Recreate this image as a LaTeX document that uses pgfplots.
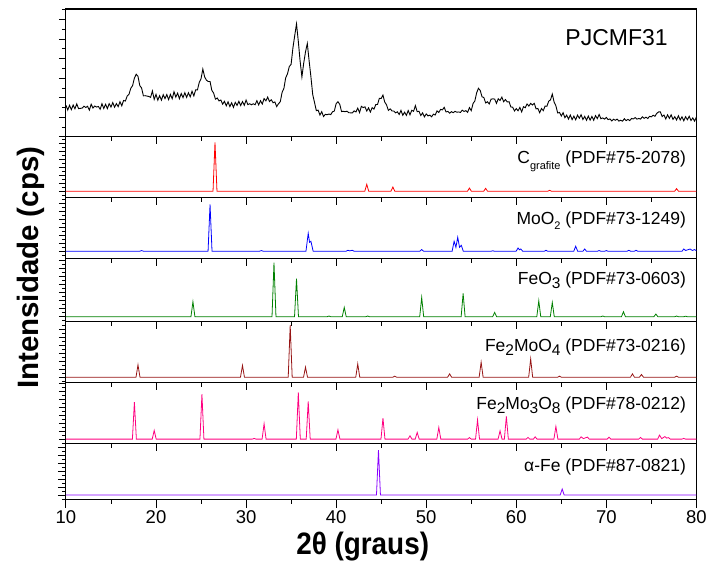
\documentclass[border=0pt]{standalone}
\usepackage{pgfplots}
\pgfplotsset{compat=1.18}
\usepackage{fontspec}
\setmainfont{Liberation Sans}
\usetikzlibrary{calc}
\definecolor{cC}{RGB}{255,0,0}
\definecolor{cMo}{RGB}{0,0,255}
\definecolor{cFeO}{RGB}{0,128,0}
\definecolor{cFMO}{RGB}{150,20,20}
\definecolor{cFMOE}{RGB}{255,0,128}
\definecolor{cFe}{RGB}{136,0,255}
\newcommand\lsub[1]{\raisebox{-0.45ex}{\fontsize{15.5}{15.5}\selectfont #1}}
\newcommand\ssub[1]{\raisebox{-0.6ex}{\fontsize{11}{11}\selectfont #1}}
\tikzset{lab/.style={anchor=base east, font=\fontsize{17.5}{17.5}\selectfont}}
\pgfplotsset{
  panel/.style={scale only axis, width=631pt, xmin=10, xmax=80,
    xtick={10,20,...,80}, minor x tick num=1, xticklabels={},
    tick align=outside, xtick pos=lower, ytick pos=left, yticklabels={},
    major tick length=7pt, minor tick length=4pt,
    axis line style={line width=1.1pt},
    every tick/.style={black, line width=0.9pt},
    anchor=south west, clip=true},
}
\begin{document}
\begin{tikzpicture}
% ---------- top panel: sample ----------
\begin{axis}[panel, at={(0pt,363pt)}, height=128pt, ymin=0, ymax=100,
  ytick distance=15.3, minor y tick num=1]
\addplot[black, line width=0.9pt] table {
10.0 24.8
10.2 21.0
10.4 24.7
10.6 21.3
10.8 24.9
11.0 22.0
11.2 25.8
11.4 22.1
11.6 22.3
11.8 22.5
12.0 24.0
12.2 23.0
12.4 23.9
12.6 20.9
12.8 25.5
13.0 22.6
13.2 24.1
13.4 23.3
13.6 23.8
13.8 21.6
14.0 25.9
14.2 22.2
14.4 25.5
14.6 22.1
14.8 26.0
15.0 23.3
15.2 26.8
15.4 23.2
15.6 26.0
15.8 23.6
16.0 27.5
16.2 24.3
16.4 28.5
16.6 28.0
16.8 32.0
17.0 33.3
17.2 38.0
17.4 40.1
17.6 45.9
17.8 49.0
18.0 47.3
18.2 40.1
18.4 38.2
18.6 32.1
18.8 32.2
19.0 31.9
19.2 31.6
19.4 30.9
19.6 35.9
19.8 29.3
20.0 33.2
20.2 28.7
20.4 32.2
20.6 28.7
20.8 33.0
21.0 29.9
21.2 33.1
21.4 29.1
21.6 33.2
21.8 29.8
22.0 35.3
22.2 31.1
22.4 34.2
22.6 29.9
22.8 33.9
23.0 30.7
23.2 34.5
23.4 30.9
23.6 34.5
23.8 31.3
24.0 35.7
24.2 32.0
24.4 36.7
24.6 36.7
24.8 42.5
25.0 45.5
25.2 53.0
25.4 46.9
25.6 44.3
25.8 43.3
26.0 43.3
26.2 36.3
26.4 34.2
26.6 29.5
26.8 30.4
27.0 28.1
27.2 28.8
27.4 25.6
27.6 27.8
27.8 24.3
28.0 27.4
28.2 23.7
28.4 26.6
28.6 23.1
28.8 27.0
29.0 24.6
29.2 27.8
29.4 24.5
29.6 27.6
29.8 24.7
30.0 28.8
30.2 25.2
30.4 25.9
30.6 25.1
30.8 25.9
31.0 25.1
31.2 28.3
31.4 25.0
31.6 28.3
31.8 25.7
32.0 29.9
32.2 28.2
32.4 31.1
32.6 27.6
32.8 29.0
33.0 26.7
33.2 27.3
33.4 23.7
33.6 25.9
33.8 27.5
34.0 34.8
34.2 37.9
34.4 46.2
34.6 49.3
34.8 55.0
35.0 56.7
35.2 69.5
35.4 79.1
35.6 88.4
35.8 74.7
36.0 59.3
36.2 46.9
36.4 57.7
36.6 66.5
36.8 73.0
37.0 59.5
37.2 47.0
37.4 33.1
37.6 26.9
37.8 20.5
38.0 20.9
38.2 17.1
38.4 19.7
38.6 15.9
38.8 17.6
39.0 17.3
39.2 17.9
39.4 17.4
39.6 19.6
39.8 20.2
40.0 25.9
40.2 27.5
40.4 25.5
40.6 19.8
40.8 20.0
41.0 19.7
41.2 20.1
41.4 18.9
41.6 18.8
41.8 18.8
42.0 20.3
42.2 19.5
42.4 22.5
42.6 19.0
42.8 23.9
43.0 22.9
43.2 23.5
43.4 20.2
43.6 22.7
43.8 19.4
44.0 22.9
44.2 21.7
44.4 25.2
44.6 25.4
44.8 30.2
45.0 30.0
45.2 32.7
45.4 27.1
45.6 25.0
45.8 20.7
46.0 21.9
46.2 20.3
46.4 20.2
46.6 18.8
46.8 19.6
47.0 17.5
47.2 20.7
47.4 16.9
47.6 19.3
47.8 16.8
48.0 20.6
48.2 17.3
48.4 20.8
48.6 20.0
48.8 24.4
49.0 19.7
49.2 20.0
49.4 16.7
49.6 18.8
49.8 15.6
50.0 17.9
50.2 16.4
50.4 17.0
50.6 15.7
50.8 17.8
51.0 17.1
51.2 20.3
51.4 19.1
51.6 21.5
51.8 21.1
52.0 23.1
52.2 19.5
52.4 19.9
52.6 18.5
52.8 19.7
53.0 18.9
53.2 20.0
53.4 19.3
53.6 19.5
53.8 19.1
54.0 20.9
54.2 19.9
54.4 20.5
54.6 19.2
54.8 22.9
55.0 20.5
55.2 26.0
55.4 28.1
55.6 34.4
55.8 38.0
56.0 36.3
56.2 31.3
56.4 30.8
56.6 26.5
56.8 27.5
57.0 25.7
57.2 29.5
57.4 29.7
57.6 29.6
57.8 26.2
58.0 29.8
58.2 28.5
58.4 31.1
58.6 27.5
58.8 29.2
59.0 27.3
59.2 27.5
59.4 23.4
59.6 23.2
59.8 20.3
60.0 22.1
60.2 20.4
60.4 23.0
60.6 19.5
60.8 23.6
61.0 22.8
61.2 25.7
61.4 24.1
61.6 26.2
61.8 24.9
62.0 26.2
62.2 21.9
62.4 22.2
62.6 18.9
62.8 22.2
63.0 20.5
63.2 24.1
63.4 23.9
63.6 27.9
63.8 28.9
64.0 33.5
64.2 27.3
64.4 24.3
64.6 18.7
64.8 19.1
65.0 16.3
65.2 18.9
65.4 15.0
65.6 17.0
65.8 13.9
66.0 17.1
66.2 13.5
66.4 16.2
66.6 13.4
66.8 17.0
67.0 14.6
67.2 17.3
67.4 13.6
67.6 16.0
67.8 13.0
68.0 16.3
68.2 13.1
68.4 16.0
68.6 13.0
68.8 16.6
69.0 14.3
69.2 17.5
69.4 14.2
69.6 14.8
69.8 13.9
70.0 15.2
70.2 13.5
70.4 14.0
70.6 12.5
70.8 13.8
71.0 13.0
71.2 13.9
71.4 12.3
71.6 13.0
71.8 12.3
72.0 14.2
72.2 12.7
72.4 13.7
72.6 12.7
72.8 14.4
73.0 14.0
73.2 15.1
73.4 13.9
73.6 14.4
73.8 13.9
74.0 15.7
74.2 14.5
74.4 15.4
74.6 14.4
74.8 16.0
75.0 15.7
75.2 16.9
75.4 16.1
75.6 18.4
75.8 19.5
76.0 19.5
76.2 15.9
76.4 17.1
76.6 14.0
76.8 17.2
77.0 14.4
77.2 17.2
77.4 13.7
77.6 15.8
77.8 13.2
78.0 16.5
78.2 13.2
78.4 15.7
78.6 12.6
78.8 15.8
79.0 13.4
79.2 16.1
79.4 12.8
79.6 14.8
79.8 12.3
80.0 15.5
};
\node[anchor=base east, font=\fontsize{23}{23}\selectfont] at (rel axis cs:0.96,1) [yshift=-37pt] {PJCMF31};
\end{axis}
% ---------- C grafite ----------
\begin{axis}[panel, at={(0pt,302pt)}, height=61pt, ymin=-6.5, ymax=54.5,
  ytick distance=8, minor y tick num=1]
\addplot[cC, line width=0.8pt] coordinates {
(10,0)(26.33,0)(26.55,49)(26.77,0)(43.18,0)(43.4,7)(43.62,0)(46.08,0)(46.3,4.3)(46.52,0)
(54.58,0)(54.8,3.3)(55.02,0)(56.38,0)(56.6,3)(56.82,0)(63.48,0)(63.7,1)(63.92,0)
(77.58,0)(77.8,2.7)(78.02,0)(80,0)};
\node[lab] at (rel axis cs:0.989,1) [yshift=-27pt] {C\ssub{grafite} (PDF\#75-2078)};
\end{axis}
% ---------- MoO2 ----------
\begin{axis}[panel, at={(0pt,241pt)}, height=61pt, ymin=-7.5, ymax=53.5,
  ytick distance=8, minor y tick num=1]
\addplot[cMo, line width=0.8pt] coordinates {
(10,0)(18.18,0)(18.4,0.7)(18.62,0)(25.78,0)(26.0,47)(26.22,0)(31.48,0)(31.7,0.7)(31.92,0)
(36.65,0)(36.9,18)(37.05,9)(37.2,10)(37.45,0)(41.1,0)(41.3,1)(41.5,0.4)(41.8,1)(42.0,0)
(49.28,0)(49.5,1.7)(49.72,0)(52.88,0)(53.1,10)(53.3,4)(53.5,14)(53.7,4)(53.9,6)(54.12,0)
(57.2,0)(57.4,0.5)(57.6,0)(59.98,0)(60.2,3.3)(60.35,1.5)(60.5,2.3)(60.72,0)(63.1,0)(63.3,1)(63.5,0)
(66.38,0)(66.6,5)(66.82,0)(67.4,0)(67.6,2.3)(67.8,0)(69.0,0)(69.2,0.7)(69.4,0)(69.8,0)(70.0,0.7)(70.2,0)
(72.3,0)(72.5,1)(72.7,0)(73.1,0)(73.3,1)(73.5,0)(78.4,0)(78.6,2.3)(78.8,0.8)(79.3,2.3)(79.55,0.8)(79.8,1.7)(80,0.5)};
\node[lab] at (rel axis cs:0.989,1) [yshift=-26.5pt] {MoO\ssub{2} (PDF\#73-1249)};
\end{axis}
% ---------- FeO3 ----------
\begin{axis}[panel, at={(0pt,178pt)}, height=63pt, ymin=-5, ymax=58,
  ytick distance=8, minor y tick num=1]
\addplot[cFeO, line width=0.8pt] coordinates {
(10,0)(23.88,0)(24.1,15)(24.32,0)(32.88,0)(33.1,54)(33.32,0)(35.38,0)(35.6,38)(35.82,0)
(39.0,0)(39.2,0.7)(39.4,0)(40.68,0)(40.9,9.3)(41.12,0)(43.3,0)(43.5,0.7)(43.7,0)
(49.28,0)(49.5,19.3)(49.72,0)(53.88,0)(54.1,23.3)(54.32,0)(57.38,0)(57.6,4.3)(57.82,0)
(62.28,0)(62.5,16)(62.72,0)(63.78,0)(64.0,14.3)(64.22,0)(69.4,0)(69.6,0.7)(69.8,0)
(71.68,0)(71.9,5)(72.12,0)(75.28,0)(75.5,2.7)(75.72,0)(77.6,0)(77.8,0.7)(78.0,0)(78.6,0)(78.8,0.5)(79.0,0)(80,0)};
\node[lab] at (rel axis cs:0.989,1) [yshift=-25.5pt] {FeO\lsub{3} (PDF\#73-0603)};
\end{axis}
% ---------- Fe2MoO4 ----------
\begin{axis}[panel, at={(0pt,117pt)}, height=61pt, ymin=-5.5, ymax=55.5,
  ytick distance=8, minor y tick num=1]
\addplot[cFMO, line width=0.8pt] coordinates {
(10,0)(17.78,0)(18.0,12.3)(18.22,0)(29.38,0)(29.6,11.7)(29.82,0)(34.68,0)(34.9,52)(35.12,0)
(36.38,0)(36.6,10)(36.82,0)(42.18,0)(42.4,13.3)(42.62,0)(46.3,0)(46.5,1)(46.7,0)
(52.38,0)(52.6,3.3)(52.82,0)(55.88,0)(56.1,15)(56.32,0)(61.38,0)(61.6,18.3)(61.82,0)
(64.6,0)(64.8,1)(65.0,0)(72.68,0)(72.9,3.3)(73.12,0)(73.68,0)(73.9,2.7)(74.12,0)(77.6,0)(77.8,1)(78.0,0)(80,0)};
\node[lab] at (rel axis cs:0.989,1) [yshift=-29.5pt] {Fe\lsub{2}MoO\lsub{4} (PDF\#73-0216)};
\end{axis}
% ---------- Fe2Mo3O8 ----------
\begin{axis}[panel, at={(0pt,56pt)}, height=61pt, ymin=-4.5, ymax=56.5,
  ytick distance=8, minor y tick num=1]
\addplot[cFMOE, line width=0.8pt] coordinates {
(10,0)(17.38,0)(17.6,37)(17.82,0)(19.58,0)(19.8,8.7)(20.02,0)(24.88,0)(25.1,45)(25.32,0)
(30.7,0)(30.9,0.7)(31.1,0)(31.78,0)(32.0,15.3)(32.22,0)(35.58,0)(35.8,46.7)(36.02,0)
(36.68,0)(36.9,37.7)(37.12,0)(39.98,0)(40.2,9.3)(40.42,0)(44.98,0)(45.2,21)(45.42,0)
(47.98,0)(48.2,3.3)(48.42,0)(48.78,0)(49.0,6.7)(49.22,0)(51.18,0)(51.4,11.7)(51.62,0)
(54.6,0)(54.8,1.5)(55.0,0)(55.48,0)(55.7,19.3)(55.92,0)(57.98,0)(58.2,8.3)(58.42,0)
(58.68,0)(58.9,22.7)(59.12,0)(61.1,0)(61.3,1.7)(61.5,0)(61.9,0)(62.1,2.3)(62.3,0)
(64.18,0)(64.4,12.7)(64.62,0)(67.0,0)(67.2,2.3)(67.45,0.5)(67.9,2)(68.1,0)(70.1,0)(70.3,2)(70.5,0)
(73.6,0)(73.8,1.7)(74.0,0)(75.7,0)(75.9,4)(76.15,0.5)(76.5,2.5)(76.7,1)(76.9,1.5)(77.1,0)
(78.4,0)(78.6,0.7)(78.8,0)(80,0)};
\node[lab] at (rel axis cs:0.989,1) [yshift=-26.5pt] {Fe\lsub{2}Mo\lsub{3}O\lsub{8} (PDF\#78-0212)};
\end{axis}
% ---------- alpha-Fe ----------
\begin{axis}[panel, name=p7, at={(0pt,0pt)}, height=56pt, ymin=-4.5, ymax=51.5,
  ytick distance=8, minor y tick num=1,
  xticklabels={10,20,30,40,50,60,70,80},
  /pgf/number format/assume math mode=true,
  major tick length=8pt,
  xticklabel style={font=\fontsize{18.5}{18.5}\selectfont}]
\addplot[cFe, line width=0.8pt] coordinates {
(10,0)(44.48,0)(44.7,45)(44.92,0)(64.88,0)(65.1,6)(65.32,0)(80,0)};
\node[lab] at (rel axis cs:0.989,1) [yshift=-28.3pt] {α-Fe (PDF\#87-0821)};
\end{axis}
\node[rotate=90, font=\bfseries\fontsize{29.5}{29.5}\selectfont] at ($(p7.south west)+(-35pt,232pt)$) {Intensidade (cps)};
\node[font=\bfseries\fontsize{31}{31}\selectfont] at ($(p7.south west)+(297pt,-47pt)$) {\scalebox{0.9}[1]{2θ (graus)}};
\path[use as bounding box] ($(p7.south west)+(-66pt,-65pt)$) rectangle ($(p7.south west)+(644pt,500pt)$);
\end{tikzpicture}
\end{document}
